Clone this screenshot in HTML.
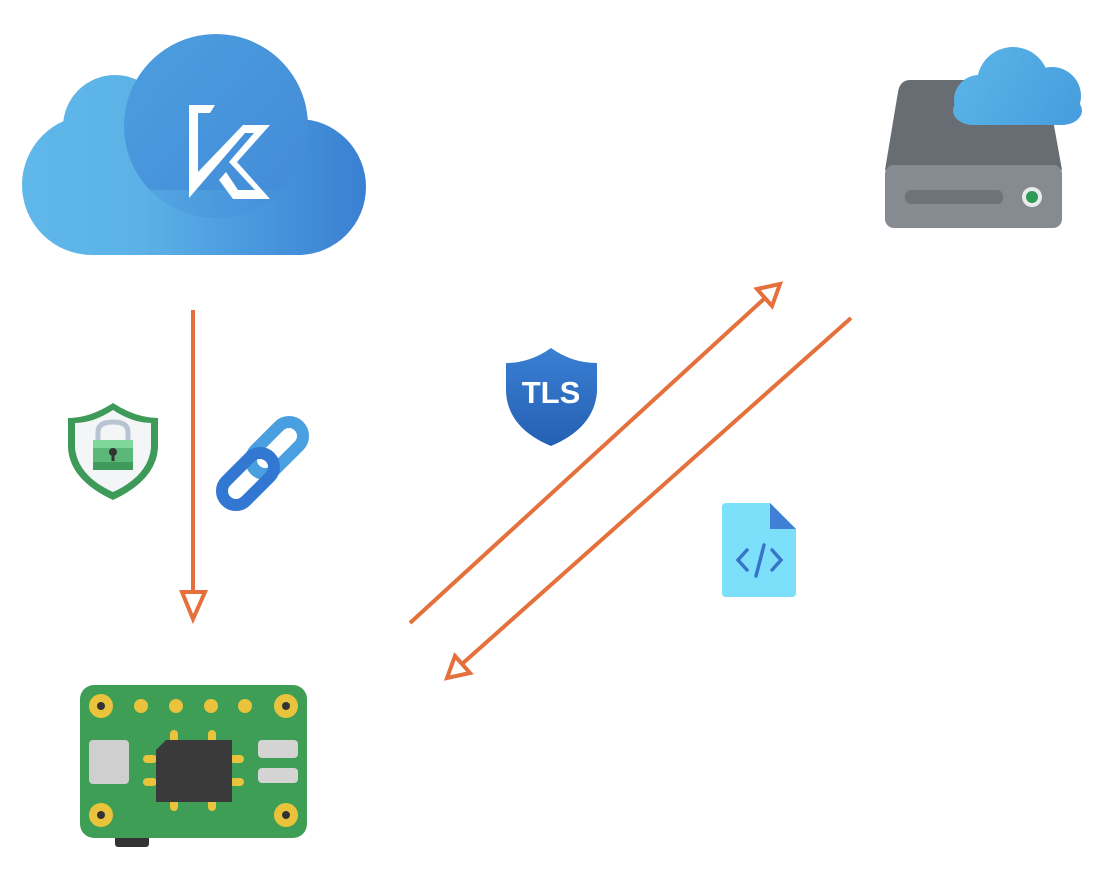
<!DOCTYPE html>
<html><head><meta charset="utf-8"><style>html,body{margin:0;padding:0;background:#fff}svg{display:block}</style></head>
<body>
<svg width="1112" height="882" viewBox="0 0 1112 882" xmlns="http://www.w3.org/2000/svg">
<defs>
<linearGradient id="cl" gradientUnits="userSpaceOnUse" x1="20" y1="0" x2="366" y2="0"><stop offset="0" stop-color="#5fb8e9"/><stop offset="0.35" stop-color="#5cb2e6"/><stop offset="0.65" stop-color="#4a9ade"/><stop offset="1" stop-color="#3a80d2"/></linearGradient>
<linearGradient id="bc" gradientUnits="userSpaceOnUse" x1="124" y1="40" x2="308" y2="200"><stop offset="0" stop-color="#4c9edf"/><stop offset="1" stop-color="#438bd8"/></linearGradient>
<linearGradient id="cl2" gradientUnits="userSpaceOnUse" x1="953" y1="47" x2="1082" y2="125"><stop offset="0" stop-color="#5cb6e8"/><stop offset="1" stop-color="#469cdd"/></linearGradient>
<linearGradient id="tls" x1="0" x2="0" y1="0" y2="1"><stop offset="0" stop-color="#3a7fd2"/><stop offset="1" stop-color="#2560b4"/></linearGradient>
</defs>
<!-- big cloud -->
<g fill="url(#cl)">
<circle cx="115" cy="127" r="52"/>
<circle cx="92" cy="185" r="70"/>
<circle cx="298" cy="187" r="68"/>
<rect x="92" y="150" width="210" height="105"/>
</g>
<circle cx="216" cy="126" r="92" fill="url(#bc)"/>
<rect x="150" y="190" width="150" height="65" fill="url(#cl)" opacity="0.6"/>
<!-- K logo -->
<polygon fill="#fff" points="189,105 215,105 210,113 198,113 198,172 243,125 270,125 237,162 270,199 233,199 219,180 226,172 238,190 255,190 229,162 254,133 245,133 189,198"/>
<!-- server -->
<path d="M910 80 L1036 80 Q1046 80 1048 92 L1062 170 L885 170 L898 92 Q900 80 910 80Z" fill="#686d73"/>
<rect x="885" y="165" width="177" height="63" rx="9" fill="#868b92"/>
<rect x="905" y="190" width="98" height="14" rx="6" fill="#6e737a"/>
<circle cx="1032" cy="197" r="10" fill="#e9ebec"/>
<circle cx="1032" cy="197" r="6" fill="#2f9a55"/>
<!-- small cloud -->
<g fill="url(#cl2)">
<circle cx="1013" cy="83" r="36"/>
<circle cx="979" cy="100" r="25"/>
<circle cx="1052" cy="96" r="29"/>
<rect x="953" y="96" width="129" height="29" rx="20"/>
<rect x="979" y="90" width="73" height="35"/>
</g>
<!-- arrows -->
<g stroke="#e4703c" stroke-width="4" fill="none" stroke-linejoin="miter">
<line x1="193" y1="310" x2="193" y2="592"/>
<polygon points="182,592 205,592 193,619" fill="#fff"/>
<line x1="410" y1="623" x2="765" y2="298"/>
<polygon points="757,289 780,284 772,306" fill="#fff"/>
<line x1="851" y1="318" x2="462" y2="664"/>
<polygon points="470,673 447,678 455,656" fill="#fff"/>
</g>
<!-- lock shield -->
<path d="M113 403 Q90 418 68 418 L68 448 Q70 480 113 500 Q156 480 158 448 L158 418 Q136 418 113 403Z" fill="#3d9a58"/>
<path d="M113 410 Q93 423 75 423 L75 448 Q78 476 113 492 Q148 476 151 448 L151 423 Q133 423 113 410Z" fill="#f4f5f6"/>
<path d="M98 443 L98 432 Q98 422 113 422 Q128 422 128 432 L128 443" stroke="#b9c4d2" stroke-width="5" fill="none"/>
<rect x="93" y="440" width="40" height="30" rx="2" fill="#5cb879"/>
<rect x="93" y="440" width="40" height="8" fill="#7fd89a"/>
<rect x="93" y="462" width="40" height="8" fill="#3f9a5c"/>
<circle cx="113" cy="452" r="4" fill="#333"/>
<rect x="111.5" y="452" width="3" height="9" fill="#333"/>
<!-- chain -->
<g fill="none" stroke-width="12">
<rect x="263" y="417" width="28" height="62" rx="14" transform="rotate(45 277 448)" stroke="#4a9fe0"/>
<rect x="234" y="448" width="28" height="62" rx="14" transform="rotate(45 248 479)" stroke="#3278d2"/>
</g>
<!-- TLS shield -->
<path d="M551 348 Q530 363 506 363 L506 392 Q508 428 551 446 Q594 428 597 392 L597 363 Q572 363 551 348Z" fill="url(#tls)"/>
<text x="551" y="403" font-family="Liberation Sans, sans-serif" font-weight="bold" font-size="31" fill="#fff" text-anchor="middle">TLS</text>
<!-- code file -->
<path d="M726 503 L770 503 L796 529 L796 593 Q796 597 792 597 L726 597 Q722 597 722 593 L722 507 Q722 503 726 503Z" fill="#7de0fb"/>
<path d="M770 503 L770 529 L796 529Z" fill="#3f7fd6"/>
<g stroke="#3a73c8" stroke-width="3.5" fill="none" stroke-linecap="round">
<polyline points="747,550 738,560 747,570"/>
<polyline points="772,550 781,560 772,570"/>
<line x1="764" y1="545" x2="756" y2="576"/>
</g>
<!-- PCB -->
<rect x="115" y="830" width="34" height="17" rx="3" fill="#333"/>
<rect x="80" y="685" width="227" height="153" rx="14" fill="#3f9e56"/>
<g fill="#e9c33c">
<circle cx="101" cy="706" r="12"/><circle cx="286" cy="706" r="12"/>
<circle cx="101" cy="815" r="12"/><circle cx="286" cy="815" r="12"/>
<circle cx="141" cy="706" r="7"/><circle cx="176" cy="706" r="7"/><circle cx="211" cy="706" r="7"/><circle cx="245" cy="706" r="7"/>
<rect x="170" y="730" width="8" height="14" rx="4"/><rect x="208" y="730" width="8" height="14" rx="4"/>
<rect x="170" y="797" width="8" height="14" rx="4"/><rect x="208" y="797" width="8" height="14" rx="4"/>
<rect x="143" y="755" width="14" height="8" rx="4"/><rect x="143" y="778" width="14" height="8" rx="4"/>
<rect x="230" y="755" width="14" height="8" rx="4"/><rect x="230" y="778" width="14" height="8" rx="4"/>
</g>
<g fill="#333"><circle cx="101" cy="706" r="4"/><circle cx="286" cy="706" r="4"/><circle cx="101" cy="815" r="4"/><circle cx="286" cy="815" r="4"/></g>
<path d="M166 740 L232 740 L232 802 L156 802 L156 750Z" fill="#3a3a3a"/>
<rect x="89" y="740" width="40" height="44" rx="4" fill="#cfcfcf"/>
<rect x="258" y="740" width="40" height="18" rx="4" fill="#d4d4d4"/>
<rect x="258" y="768" width="40" height="15" rx="4" fill="#d4d4d4"/>
</svg>
</body></html>
